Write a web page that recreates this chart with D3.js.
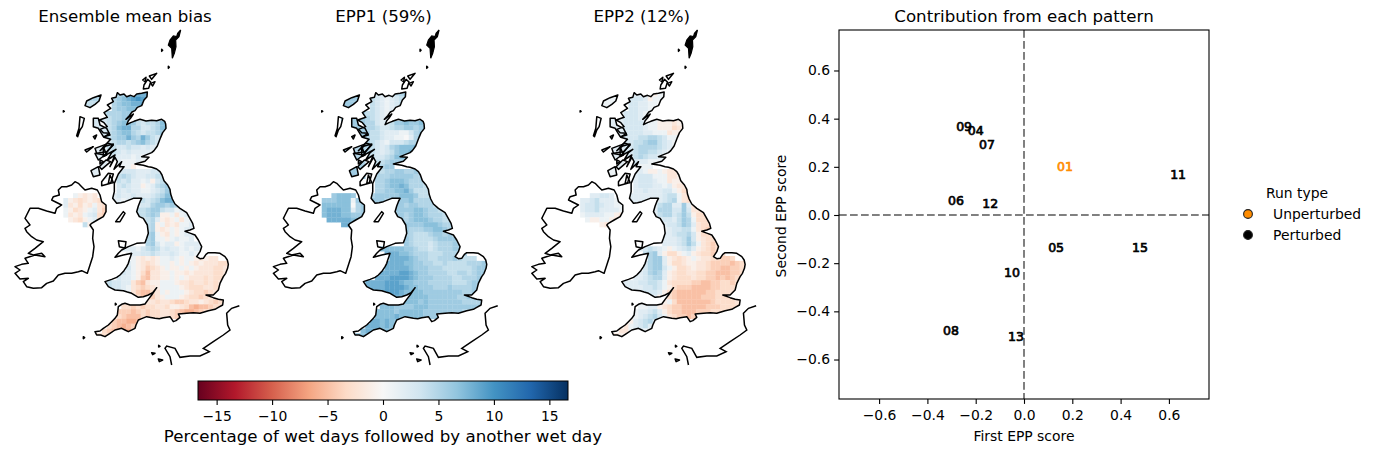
<!DOCTYPE html>
<html><head><meta charset="utf-8">
<script src="https://cdn.jsdelivr.net/npm/d3@7"></script>
<style>html,body{margin:0;background:#fff}svg{display:block}text{font-family:"DejaVu Sans";fill:#000}</style>
</head><body><svg id="c" width="1376" height="454"></svg>
<script>
const panelTitles=["Ensemble mean bias","EPP1 (59%)","EPP2 (12%)"];
const colorStops=["#67001f","#b2182b","#d6604d","#f4a582","#fddbc7","#f7f7f7","#d1e5f0","#92c5de","#4393c3","#2166ac","#053061"];
const colorTicks=[-15,-10,-5,0,5,10,15];
const colorLimit=16.68;
const runLabels=["01","04","05","06","07","08","09","10","11","12","13","15"];
const firstScores=[0.17,-0.2,0.133,-0.282,-0.153,-0.302,-0.248,-0.05,0.638,-0.14,-0.033,0.48];
const secondScores=[0.203,0.352,-0.137,0.062,0.294,-0.48,0.369,-0.24,0.17,0.046,-0.505,-0.137];
const scoreTicks=[-0.6,-0.4,-0.2,0,0.2,0.4,0.6];
const legendLabels=["Unperturbed","Perturbed"];
const legendColors=["#ff8c00","#000000"];
// grid: digit = +value, lowercase = negative value, A = +10
const gbStart=[11,10,10,10,9,9,9,9,9,8,9,9,9,9,10,11,10,11,11,11,11,10,10,15,15,15,16,16,17,17,17,17,12,13,14,13,13,12,11,9,9,10,14,17,12,11,11,10,9,8,6];
const gbBias=["5677889","56789A98","5677889","566777","555667","45566","4567764344578","4578855334579","456775434456","3456686586434","345545675432","44334332322","34323222211","3322212111","2211121","211a","3333322233","4543223344","4342212a34","34322a12456","323221123467","2322322234577","2212234345788","233566565","4456643312","44565aa1b121","3452aba1b11","345a1bab1122","45aba1a1222","561ab1a122","5611a12112","563122a12222","22213454232212122","122334322321121a","1ababa1121a11ababb","21abcba11a1a1ababbbcc","31abdcba1aa1a1abbbccb","321acebbaa1aababbbbccb","3221adebbaa1a1abbbcbccb","43322bdebaa111abbcbbcbcb","43321bcdcba1111abcccbbcb","3321bdeecb1a111abccdcbb","aceedba111abccdcbb","bbcbbcddcbbabcdcb","ccdcdccbbcaabcefeedccb","dddedcdccbbcdeffedcbb","cdeeecdccbbcddeedc","deeffedcbbcd","cdefedd","cdeeff","bccc"];
const gbEpp1=["3233456","43212345","4321234","432123","443212","54322","5532346676676","5543345566567","544322211356","5544322110257","543213334556","54323567778","54323467787","5433457767","5445666","5566","5545566556","5556666655","5567776555","55677875554","556677864444","5666667776444","6665566675555","665665554","6666776554","665677655544","65677765544","666667776554","65556677655","5544456656","65444456666","654443455566","77777665443455566","88877655544455555","888876554455565444","888877665544544445556","888887666555444444566","8888998766555544554566","88899998766655554455566","888899987766655555444566","888899998776665556555566","88899987777666666665566","888777776666665566","77767666666655556","7776666777666666666665","777767777766666666555","777787777766666655","887877766666","8887878","788777","6777"];
const gbEpp2=["2221a11","3332a111","3322110","332211","333211","33322","3333211aaabaa","3333211aaacba","333322111baa","2333445543111","334456643211","33455554321","33455443211","3345433211","3322111","2111","2221aa1abb","2333111bba","2333211baa","23332212abb","223222331acc","22222223441bc","22221123451bc","24552262b","25553363bb","24553464accc","23324651ccc","12334652bccc","1233441bcdc","2234453acc","2223463abcc","22234641bcdc","234321a12342abcdc","4562acca12abccddc","5662abcba1abbccddc","35662accbaabbcddddedc","356631accbabbcddeeddc","235652abccbbccddeeeddc","2234552abcccbccddededcd","222334431bccccddeeddccdc","222233431acdddeeeeddcccc","2223332acdeeeeeeddcccbb","32aacdeeeeedddcccc","a1ceeeeeeedccccbb","1122abcddeeeeedddccccb","122342acddeeedddccccb","1234531bcddeddcccb","a234531abccc","b123421","bb1121","bbaa"];
const niStart=[2,0,0,0,0,1,4];
const niFirstRow=21;
const niBias=["1abab","2abcbabcd","2bacab1bc","1acba12bd","1bab123cd","abca12c","4ac"];
const niEpp1=["67776","666777165","777777056","788877256","788877666","8888877","887"];
const niEpp2=["22332","223422211","233432211","233422221","1222211ab","1aa11ab","aba"];
// western isles, columns 4 to 9, rows 0 to 17
const isleBias=["55555","55555","44444","44444","44444","33333","33333","33333","33333","33333","33333","22222","22222","22222","22222","22222","22222","22222"];
const isleEpp1=["66666","66666","66666","66666","66666","66666","66666","66666","66666","55555","55555","55555","55555","55555","55555","66666","66666","66666"];
const isleEpp2=["11111","11111","11111","11111","11111","22222","22222","22222","22222","22222","22222","22222","22222","22222","22222","22222","11111","11111"];
const isleFirstCol=4;
const gridOrigin=[190,215];
const gridCell=14.5;
// coastlines, in map units
const greatBritain=[[348,232],[352,218],[360,225],[372,222],[380,230],[392,226],[402,230],[410,222],[425,220],[442,216],[441,230],[432,240],[428,250],[425,257],[412,262],[405,272],[396,276],[388,287],[378,298],[400,282],[392,294],[385,302],[380,314],[392,308],[402,304],[420,298],[438,303],[455,301],[470,302],[485,298],[494,304],[497,312],[498,325],[488,338],[482,352],[478,362],[472,378],[462,392],[455,398],[440,404],[425,410],[447,412],[435,424],[405,432],[430,436],[445,440],[455,442],[470,447],[480,455],[486,465],[492,482],[503,495],[510,508],[512,522],[517,537],[525,552],[540,565],[560,578],[568,592],[578,610],[582,625],[570,630],[555,634],[572,640],[585,645],[595,660],[605,680],[600,695],[590,710],[600,716],[610,715],[618,703],[625,698],[645,698],[660,700],[675,710],[682,720],[685,733],[683,745],[677,760],[670,770],[664,782],[660,790],[655,810],[640,825],[618,825],[640,833],[655,838],[670,840],[668,855],[655,862],[645,868],[625,872],[600,880],[580,878],[560,880],[535,882],[540,892],[528,902],[520,905],[510,890],[490,893],[478,896],[465,895],[440,890],[425,896],[415,900],[408,915],[405,925],[385,935],[375,930],[365,925],[345,930],[330,940],[315,950],[302,945],[290,945],[285,935],[300,933],[310,925],[325,915],[335,905],[345,895],[352,885],[355,860],[365,853],[375,850],[390,855],[405,855],[420,855],[435,852],[445,838],[455,825],[470,803],[458,818],[445,825],[430,830],[415,832],[395,820],[382,816],[370,812],[345,810],[335,805],[325,800],[315,785],[335,778],[350,772],[360,765],[372,752],[380,740],[385,730],[388,720],[395,700],[370,705],[345,712],[355,700],[365,690],[385,680],[410,670],[435,668],[440,655],[445,640],[442,615],[430,595],[418,590],[410,575],[415,558],[420,545],[425,535],[400,535],[375,545],[362,548],[350,550],[338,535],[343,515],[343,490],[355,462],[372,440],[358,440],[365,425],[342,448],[352,425],[345,412],[330,440],[345,405],[322,420],[335,398],[348,388],[312,408],[330,385],[340,372],[318,378],[300,392],[322,368],[332,358],[312,352],[328,340],[310,338],[300,328],[322,320],[312,308],[298,300],[322,292],[312,278],[332,265],[322,255],[340,245],[335,235]];
const ireland=[[155,540],[160,530],[178,525],[175,510],[185,500],[200,500],[215,495],[225,485],[235,490],[245,500],[255,510],[275,505],[292,510],[300,525],[305,545],[318,555],[318,575],[310,590],[292,600],[275,610],[270,615],[280,630],[278,655],[282,680],[278,710],[270,735],[262,760],[245,752],[235,755],[215,760],[195,760],[175,765],[160,783],[140,790],[125,803],[100,805],[80,800],[70,785],[85,775],[60,777],[45,760],[60,750],[45,740],[65,733],[85,730],[75,715],[105,705],[135,710],[125,700],[100,705],[85,700],[105,685],[130,665],[110,660],[95,650],[80,635],[75,625],[90,615],[75,595],[80,585],[90,565],[115,565],[140,573],[165,580],[170,565],[185,555]];
const islands=[
[[432,195],[443,178],[452,186],[446,205],[430,207]],[[448,168],[470,160],[455,178]],[[452,190],[465,185],[458,198]],[[428,180],[438,172],[436,186]],
[[303,225],[280,233],[260,243],[255,257],[270,263],[285,253],[297,243]],
[[240,290],[253,295],[247,320],[240,330],[233,350],[230,347],[237,325]],
[[280,295],[295,295],[300,315],[320,325],[330,345],[310,350],[295,325],[280,320]],
[[280,350],[290,345],[285,357]],[[255,390],[280,380],[260,396]],
[[285,385],[325,370],[340,375],[320,395],[290,400]],[[332,425],[305,448],[298,440],[318,420]],
[[285,400],[315,405],[295,420]],[[310,380],[320,405],[310,410]],
[[273,452],[295,440],[300,465],[280,470]],[[325,460],[340,462],[332,490],[305,497],[305,485]],
[[300,420],[310,425],[300,432]],[[330,465],[340,488],[325,490]],
[[370,575],[375,580],[360,605],[347,605]],[[355,662],[378,665],[375,685],[358,680]],
[[190,272],[193,274],[190,276]],[[485,88],[488,91],[485,94]],[[505,139],[508,142],[505,145]],
[[250,950],[254,953],[250,956]],[[346,850],[349,853],[346,855]],
[[455,998],[465,1000],[458,1004]],[[475,1017],[488,1020],[478,1025]],[[476,976],[480,979],[476,981]]
];
const shetland=[[542,30],[533,40],[530,50],[520,48],[510,60],[505,75],[515,85],[517,115],[523,100],[528,80],[527,60],[537,50]];
const france=[[718,857],[695,865],[680,880],[683,915],[690,930],[670,945],[640,965],[610,985],[628,995],[600,1008],[570,1008],[540,1012],[525,985],[500,978],[495,985],[510,1010],[515,1035]];
const panelOffsets=[0,258.4,516.8];

const svg=d3.select("#c");
const color=d3.scaleLinear().domain(d3.range(11).map(i=>-colorLimit+i*colorLimit/5)).range(colorStops).clamp(true);
const mapX=d3.scaleLinear().domain([0,780]).range([0,260]);
const mapY=d3.scaleLinear().domain([0,1050]).range([20,370]);
const line=d3.line().x(d=>mapX(d[0])).y(d=>mapY(d[1]));
const closed=d3.line().x(d=>mapX(d[0])).y(d=>mapY(d[1])).curve(d3.curveLinearClosed);
const decode=ch=>{if(ch>="0"&&ch<="9")return +ch;if(ch==="A")return 10;if(ch>="a"&&ch<="z")return -(ch.charCodeAt(0)-96);return 0;};
const cellsOf=(rows,starts,firstRow)=>rows.flatMap((r,i)=>Array.from(r).map((ch,j)=>({col:(starts.length?starts[i]:starts)+j,row:firstRow+i,v:decode(ch)})));
const fields=[[gbBias,niBias,isleBias],[gbEpp1,niEpp1,isleEpp1],[gbEpp2,niEpp2,isleEpp2]];
const land=[greatBritain,ireland,...islands];
const defs=svg.append("defs");
defs.append("clipPath").attr("id","land").selectAll("path").data(land).join("path").attr("d",closed);
fields.forEach((f,k)=>{
  const g=svg.append("g").attr("transform",`translate(${panelOffsets[k]},0)`);
  const cells=[...cellsOf(f[2],isleFirstCol,0),...cellsOf(f[0],gbStart,0),...cellsOf(f[1],niStart,niFirstRow)];
  g.append("g").attr("clip-path","url(#land)").selectAll("rect").data(cells).join("rect")
    .attr("x",d=>mapX(gridOrigin[0]+d.col*gridCell)).attr("y",d=>mapY(gridOrigin[1]+d.row*gridCell))
    .attr("width",mapX(gridCell)-mapX(0)+0.3).attr("height",mapY(gridCell)-mapY(0)+0.3).attr("fill",d=>color(d.v));
  g.selectAll(".coast").data(land).join("path").attr("class","coast").attr("d",closed).attr("fill","none").attr("stroke","#000").attr("stroke-width",1.5).attr("stroke-linejoin","round");
  g.append("path").attr("d",closed(shetland)).attr("fill","#000").attr("stroke","#000").attr("stroke-width",1.2);
  g.append("path").attr("d",line(france)).attr("fill","none").attr("stroke","#000").attr("stroke-width",1.5);
  g.append("text").attr("x",125).attr("y",22).attr("text-anchor","middle").attr("font-size",16.67).text(panelTitles[k]);
});
// colour bar
const cbX=d3.scaleLinear().domain([-colorLimit,colorLimit]).range([198,568]);
const grad=defs.append("linearGradient").attr("id","cb");
grad.selectAll("stop").data(colorStops).join("stop").attr("offset",(d,i)=>i*10+"%").attr("stop-color",d=>d);
svg.append("rect").attr("x",198).attr("y",381).attr("width",370).attr("height",19).attr("fill","url(#cb)").attr("stroke","#000").attr("stroke-width",1);
const cbAxis=svg.append("g").attr("transform","translate(0,400)").call(d3.axisBottom(cbX).tickValues(colorTicks).tickFormat(d3.format("d")).tickSize(4.9).tickSizeOuter(0));
cbAxis.select(".domain").remove();
cbAxis.selectAll("text").attr("font-size",13.9).attr("font-family","DejaVu Sans").attr("dy",null).attr("y",21);
cbAxis.selectAll("line").attr("stroke-width",1.1);
svg.append("text").attr("x",383).attr("y",442).attr("text-anchor","middle").attr("font-size",16.67).text("Percentage of wet days followed by another wet day");
// scatter
const sx=d3.scaleLinear().domain([-0.766,0.766]).range([839,1209]);
const sy=d3.scaleLinear().domain([-0.766,0.766]).range([399.5,30.5]);
const fmt=d3.format(".1f");
[["M",sx(0),30,"V",399],["M",839,sy(0),"H",1209]].forEach(p=>svg.append("path").attr("d",p.join(" ")).attr("stroke","#808080").attr("stroke-width",2).attr("stroke-dasharray","7.7,3.3"));
svg.selectAll(".run").data(runLabels).join("text").attr("class","run")
  .attr("x",(d,i)=>sx(firstScores[i])).attr("y",(d,i)=>sy(secondScores[i])).attr("dy","0.36em").attr("text-anchor","middle")
  .attr("font-size",12.5).attr("stroke-width",0.7).attr("stroke",d=>d==="01"?legendColors[0]:legendColors[1]).style("fill",d=>d==="01"?legendColors[0]:legendColors[1]).text(d=>d);
svg.append("rect").attr("x",839).attr("y",30).attr("width",370).attr("height",369).attr("fill","none").attr("stroke","#000").attr("stroke-width",1.1);
const ax=svg.append("g").attr("transform","translate(0,399)").call(d3.axisBottom(sx).tickValues(scoreTicks).tickFormat(fmt).tickSize(4.9).tickSizeOuter(0));
const ay=svg.append("g").attr("transform","translate(839,0)").call(d3.axisLeft(sy).tickValues(scoreTicks).tickFormat(fmt).tickSize(4.9).tickSizeOuter(0));
[ax,ay].forEach(a=>{a.select(".domain").remove();a.selectAll("text").attr("font-size",13.9).attr("font-family","DejaVu Sans");a.selectAll("line").attr("stroke-width",1.1);});
ax.selectAll("text").attr("dy",null).attr("y",21);
ay.selectAll("text").attr("x",-9);
svg.append("text").attr("x",1024).attr("y",441).attr("text-anchor","middle").attr("font-size",13.9).text("First EPP score");
svg.append("text").attr("transform","translate(786,216) rotate(-90)").attr("text-anchor","middle").attr("font-size",13.9).text("Second EPP score");
svg.append("text").attr("x",1024).attr("y",22).attr("text-anchor","middle").attr("font-size",16.67).text("Contribution from each pattern");
// legend
svg.append("text").attr("x",1297).attr("y",198).attr("text-anchor","middle").attr("font-size",13.9).text("Run type");
const lg=svg.selectAll(".lg").data(legendLabels).join("g").attr("class","lg").attr("transform",(d,i)=>`translate(0,${214+i*21})`);
lg.append("circle").attr("cx",1248).attr("r",4.4).attr("fill",(d,i)=>legendColors[i]).attr("stroke","#222").attr("stroke-width",1.1);
lg.append("text").attr("x",1273).attr("y",5).attr("font-size",13.9).text(d=>d);
</script></body></html>
